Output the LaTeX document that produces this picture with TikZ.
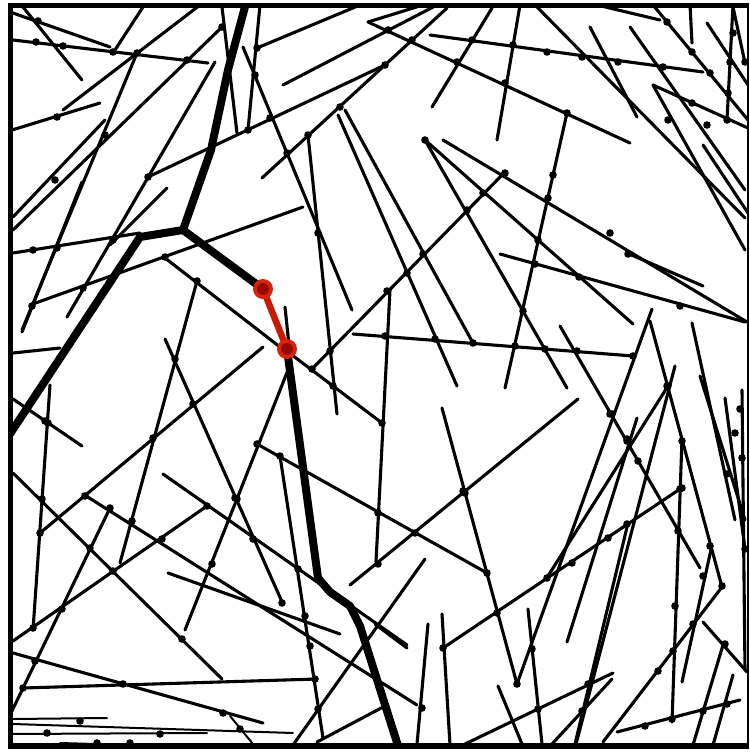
\documentclass[tikz,border=0pt]{standalone}
\definecolor{linkred}{RGB}{200,25,5}
\definecolor{ballred}{RGB}{215,35,10}
\definecolor{balldark}{RGB}{150,10,0}
\begin{document}
\begin{tikzpicture}[x=1pt,y=-1pt,
  fib/.style={line width=3.1pt, line cap=round, black},
  fibthin/.style={line width=2pt, line cap=round, black},
  heavy/.style={line width=8pt, line join=round, line cap=round, black},
  redlink/.style={line width=6.5pt, line cap=round, draw=linkred}]
\useasboundingbox (0,0) rectangle (750,753);
\fill[white] (0,0) rectangle (750,753);
\begin{scope}
\clip (10,5) rectangle (748,748);
% fibres
\foreach \a/\b/\c/\d in {
10/12/110/47, 23/7/82/80, 13/40/208/63, 143/7/113/53, 200/5/63/110,
100/103/12/130, 137/53/22/330, 222/27/13/230, 105/120/13/217, 215/62/67/317,
148/177/385/65, 167/188/110/245, 82/182/22/332, 222/7/237/133, 260/5/248/130,
257/48/360/5, 243/47/352/310, 283/85/437/5, 368/22/630/143, 368/22/423/5,
262/178/447/8, 308/135/337/414, 338/115/457/386, 345/110/473/343, 425/140/567/388,
425/140/633/324, 443/140/747/322, 430/35/703/72, 492/8/432/107, 520/5/497/140,
505/172/312/369, 30/305/303/207, 537/7/745/218, 590/27/637/117, 630/27/745/190,
597/5/660/20, 653/5/748/120, 690/5/692/43, 707/23/748/85, 733/5/727/120,
733/7/745/63, 653/85/748/128, 653/85/745/250, 703/145/748/213, 567/113/505/388,
500/254/745/322, 627/253/703/286, 353/334/633/356, 560/326/700/568, 652/309/517/684,
650/321/722/587, 675/366/575/748, 637/418/567/642, 692/323/735/520, 578/399/350/585,
742/390/745/670, 725/398/745/549, 165/258/280/347, 263/347/40/533, 13/253/140/233,
197/281/120/563, 165/339/283/604, 50/385/33/630, 13/399/82/446, 13/473/222/679,
390/290/376/562, 207/506/13/641, 163/474/407/645, 168/573/340/634, 290/365/185/630,
257/444/487/573, 280/456/323/738, 288/352/382/423, 425/559/293/745, 13/653/263/723,
23/688/317/679, 10/715/110/508, 442/408/517/684, 443/648/680/489, 442/614/450/745,
428/624/417/744, 375/624/407/648, 528/609/542/744, 465/744/613/673, 498/686/522/744,
552/744/612/679, 575/744/628/523, 13/353/60/348, 285/307/289/345, 668/386/548/576,
682/439/672/722, 603/742/722/587, 617/732/740/700, 693/745/723/645, 713/745/733/675,
703/622/747/672, 682/682/712/545, 83/494/417/705, 317/742/385/706, 700/376/745/520}
  \draw[fib] (\a,\b) -- (\c,\d);
\foreach \a/\b/\c/\d in {
13/719/107/718, 13/724/293/733, 10/734/207/733, 60/743/167/746, 230/716/253/744}
  \draw[fibthin] (\a,\b) -- (\c,\d);
% junction dots
\foreach \x/\y in {
38/21, 36/42, 63/46, 113/52, 137/53, 187/60, 222/27, 57/117, 105/135, 55/180,
148/177, 248/130, 257/48, 255/75, 388/30, 412/40, 385/65, 340/107, 308/135, 287/153,
270/118, 318/233, 425/140, 513/45, 547/52, 582/57, 618/62, 663/67, 667/22, 692/52,
710/73, 733/33, 730/62, 728/93, 727/120, 745/62, 505/83, 567/113, 668/120, 692/103,
707/125, 505/173, 553/175, 548/198, 610/233, 538/240, 457/62,
472/40, 483/193, 467/210, 535/264, 579/277, 680/306, 523/311, 515/346, 545/349,
577/351, 633/356, 667/386, 612/414, 627/441, 638/461, 682/441, 682/488, 740/409,
735/433, 742/458, 727/474, 628/254, 387/291, 407/273, 423/254, 385/336, 435/339,
473/343, 330/351, 312/369, 333/386, 382/423, 257/444, 280/456, 463/491, 165/257,
197/281, 83/288, 32/306, 175/359, 193/404, 153/438, 48/423, 85/496, 235/498,
33/250, 57/248, 113/240, 45/421, 42/499, 40/533, 110/508, 132/521, 162/539, 90/548,
113/571, 62/609, 33/628, 182/639, 207/506, 237/499, 253/539, 212/564, 282/603,
298/569, 305/616, 310/646, 315/679, 318/709, 35/661, 23/688, 123/684, 223/713,
240/729, 80/721, 47/733, 160/734, 97/743, 130/743, 378/513, 465/493, 415/533,
378/564, 487/573, 497/613, 547/578, 572/563, 608/538, 627/524, 680/489, 443/648,
532/649, 517/684, 422/708, 538/709, 588/684, 582/711, 610/414, 627/439, 668/386,
678/531, 710/546, 703/576, 722/586, 745/549, 675/606, 693/624, 673/651, 658/671,
725/644, 645/726, 672/719, 703/711, 727/704}
  \fill (\x,\y) circle (3.8pt);
% heavy path
\draw[heavy] (246,3) -- (228,70) -- (211,150) -- (183,230) -- (140,237) -- (6,440);
\draw[heavy] (183,230) -- (263,289);
\draw[heavy] (287,349) -- (318,578) -- (330,592) -- (350,606) -- (360,626) -- (400,752);
\end{scope}
% red link
\draw[redlink] (263,289) -- (287,349);
\foreach \x/\y in {263/289, 287/349} {
  \fill[ballred] (\x,\y) circle (10pt);
  \fill[balldark] (\x,\y) circle (6pt);
}
% frame
\draw[line width=5pt] (10,749) -- (10,5) -- (749,5);
\draw[line width=6pt] (8,746) -- (749,746);
\draw[line width=2pt] (748,5) -- (748,748);
\end{tikzpicture}
\end{document}
